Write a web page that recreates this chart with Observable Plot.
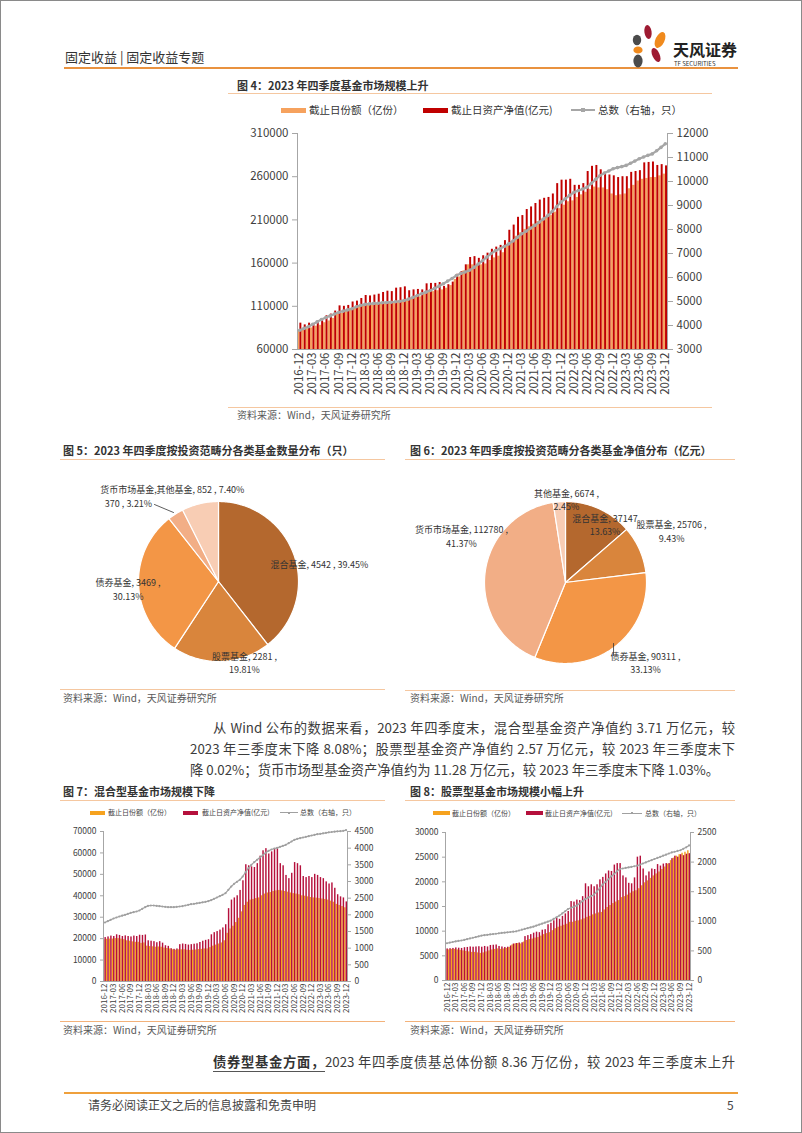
<!DOCTYPE html>
<html><head><meta charset="utf-8">
<script src="https://cdn.jsdelivr.net/npm/d3@7"></script>
<script src="https://cdn.jsdelivr.net/npm/@observablehq/plot@0.6"></script>
<style>
html,body{margin:0;padding:0;background:#fff;}
#page{position:relative;width:802px;height:1133px;overflow:hidden;font-family:"Noto Sans CJK SC","Noto Sans",sans-serif;color:#333;background:#fff;}
#border{position:absolute;left:0;top:0;width:802px;height:1133px;box-sizing:border-box;border:1px solid #8a8a8a;pointer-events:none;}
</style></head><body><div id="page"><div id="border"></div></div>
<script>
const FONT = '"Noto Sans CJK SC","Noto Sans",sans-serif';

// ---------- category axis ----------
const months = d3.timeMonth.range(new Date(2016, 11, 1), new Date(2024, 0, 1)).map(d3.timeFormat("%Y-%m"));
const tickMonths = months.filter((d, i) => i % 3 === 0);

// ---------- Figure 4: all funds ----------
const allShares = [81000,
  82000, 84000, 85000, 87000, 88000, 91000, 93000, 96000, 101000, 102000, 104000, 107000,
  108000, 110000, 112000, 112000, 112000, 112500, 113000, 114000, 114000, 115000, 116000, 117000,
  118000, 119000, 121000, 121000, 124000, 126000, 127000, 128000, 129000, 131000, 134000, 141000,
  144000, 151000, 158000, 158000, 157000, 158000, 159000, 163000, 166000, 168000, 172000, 180000,
  185000, 191000, 195000, 199000, 202000, 205000, 208000, 211000, 213000, 215000, 219000, 223000,
  227000, 231000, 232000, 236000, 239000, 242000, 245000, 248000, 247000, 247000, 245000, 240000,
  238000, 239000, 240000, 246000, 250000, 255000, 257000, 258000, 259000, 259000, 261000, 263000];
const allNav = [90500,
  88500, 90500, 89500, 93000, 94500, 99000, 101000, 104500, 110500, 110000, 111000, 115000,
  116000, 119000, 122500, 122000, 123000, 124000, 126000, 127500, 127000, 131000, 131500, 132500,
  128000, 129000, 129500, 129000, 136000, 136500, 136500, 137500, 133000, 135000, 138000, 147000,
  150000, 158000, 166500, 167500, 165500, 168500, 171500, 176000, 178500, 180500, 186000, 198000,
  204000, 213000, 215000, 222000, 225000, 229000, 233000, 235000, 236000, 240000, 252000, 256000,
  256000, 257000, 250000, 250000, 252000, 266000, 272000, 273000, 268000, 265000, 262000, 261000,
  259000, 260000, 260000, 265000, 266000, 267000, 276000, 276500, 277000, 273000, 274000, 272500];
const allCount = [3800,
  3880, 3950, 4050, 4150, 4250, 4330, 4400, 4480, 4550, 4600, 4650, 4700,
  4780, 4840, 4880, 4900, 4920, 4930, 4950, 4960, 4970, 4990, 5010, 5040,
  5100, 5170, 5250, 5320, 5390, 5460, 5550, 5640, 5740, 5850, 5960, 6080,
  6170, 6230, 6300, 6420, 6560, 6700, 6850, 7000, 7120, 7200, 7290, 7400,
  7520, 7670, 7820, 7930, 8050, 8170, 8300, 8440, 8580, 8750, 8950, 9140,
  9280, 9420, 9550, 9620, 9690, 9760, 9920, 10090, 10250, 10350, 10440, 10530,
  10580, 10620, 10670, 10760, 10850, 10950, 11020, 11090, 11150, 11280, 11420, 11570];

// ---------- Figure 7: mixed funds ----------
const mixShares = [19500,
  19700, 19800, 19800, 20000, 20000, 19800, 19500, 19000, 18800, 18500, 18300, 18300,
  17800, 18000, 16500, 16300, 16200, 16000, 16100, 16000, 15600, 15400, 15200, 14800,
  14600, 14800, 14800, 14800, 14600, 14500, 14600, 14700, 14900, 15000, 15200, 15200,
  15800, 16500, 17000, 17500, 18000, 19000, 22500, 24500, 25800, 27500, 29500, 32500,
  35500, 37000, 38000, 38300, 38700, 39000, 40000, 40800, 41300, 41500, 42000, 42300,
  42500, 42300, 42000, 41700, 41300, 41000, 40800, 40500, 40000, 39800, 39500, 39200,
  39000, 38900, 38700, 38500, 38300, 38000, 37500, 37000, 36000, 35500, 35000, 34400];
const mixNav = [20500,
  20800, 21200, 21000, 21800, 21500, 21000, 21300, 21000, 20800, 21200, 21000, 21600,
  21500, 21700, 19000, 18800, 18600, 18100, 18600, 17900, 16700, 16400, 15300, 15000,
  15200, 17200, 17500, 17300, 17000, 17200, 17400, 17600, 18200, 18800, 19200, 19500,
  21800, 22800, 23300, 24000, 25000, 26500, 34000, 38000, 39000, 40000, 42500, 47000,
  54500, 54000, 53500, 53200, 55000, 58500, 61000, 62000, 59500, 60500, 62000, 62500,
  55000, 54000, 49500, 48000, 50500, 55500, 55000, 54000, 49000, 48500, 49000, 48500,
  50000, 49500, 48500, 48000, 46500, 45500, 46000, 43500, 40500, 39500, 39000, 37147];
const mixCount = [1770,
  1810, 1850, 1890, 1920, 1950, 1975, 2000, 2030, 2060, 2080, 2100, 2130,
  2180, 2230, 2270, 2280, 2280, 2270, 2260, 2250, 2240, 2230, 2230, 2230,
  2240, 2250, 2260, 2280, 2300, 2320, 2330, 2345, 2360, 2375, 2390, 2410,
  2440, 2480, 2520, 2560, 2600, 2650, 2750, 2850, 2930, 2990, 3050, 3150,
  3280, 3400, 3500, 3580, 3650, 3720, 3790, 3860, 3920, 3960, 3990, 4010,
  4040, 4070, 4100, 4150, 4200, 4250, 4280, 4300, 4320, 4340, 4360, 4380,
  4400, 4420, 4430, 4445, 4460, 4475, 4485, 4495, 4505, 4510, 4520, 4542];

// ---------- Figure 8: stock funds ----------
const stkShares = [6200,
  6200, 6300, 6300, 6200, 6100, 6000, 5900, 5800, 5700, 5700, 5600, 5500,
  5600, 5800, 6000, 6200, 6300, 6400, 6300, 6400, 6500, 6700, 7200, 7400,
  7500, 7400, 7800, 8100, 8300, 8400, 8600, 8700, 9000, 9300, 9500, 9700,
  10100, 10500, 10800, 11000, 11200, 11400, 11800, 11800, 12000, 12100, 12300, 12500,
  12800, 13000, 13300, 13500, 13700, 13800, 14300, 14800, 15200, 15600, 15900, 16200,
  16800, 17000, 17300, 17700, 18000, 18200, 18600, 19200, 19800, 20200, 20700, 21200,
  21600, 22000, 22500, 23000, 23600, 24300, 24800, 25200, 25500, 25800, 26000, 26300];
const stkNav = [6400,
  6450, 6500, 6600, 6550, 6500, 6650, 6700, 6800, 6750, 6800, 6850, 6750,
  6900, 6800, 7100, 7150, 7200, 6900, 6800, 6700, 6750, 7000, 7400, 7500,
  7600, 7650, 8900, 9100, 9300, 9600, 9800, 9700, 10200, 10300, 11300, 11600,
  12100, 12600, 12400, 13000, 13500, 14000, 16000, 15900, 16300, 16200, 17000, 19600,
  19000, 19400, 19000, 19400, 20400, 20900, 21600, 22200, 22100, 23400, 23700, 23700,
  21200, 20800, 19700, 19600, 20800, 25000, 25200, 22600, 21200, 22000, 22600, 22500,
  23500, 23200, 23600, 23700, 23700, 24700, 25200, 25000, 25500, 25300, 25600, 25706];
const stkCount = [629,
  640, 650, 660, 668, 676, 686, 698, 710, 722, 734, 746, 759,
  765, 772, 778, 784, 790, 797, 803, 808, 813, 819, 825, 831,
  845, 858, 871, 884, 897, 910, 927, 944, 960, 977, 994, 1011,
  1040, 1068, 1096, 1133, 1170, 1208, 1227, 1245, 1264, 1300, 1340, 1377,
  1400, 1425, 1450, 1500, 1560, 1620, 1665, 1710, 1760, 1800, 1845, 1883,
  1892, 1901, 1910, 1920, 1930, 1939, 1958, 1976, 1995, 2014, 2033, 2052,
  2070, 2089, 2108, 2126, 2145, 2163, 2175, 2188, 2200, 2225, 2250, 2281];

// ---------- Figures 5 & 6: pies ----------
const pieNames = ["混合基金", "股票基金", "债券基金", "货币市场基金", "其他基金"];
const pieCount = [4542, 2281, 3469, 370, 852];
const pieNav = [37147, 25706, 90311, 112780, 6674];
const pieColors = ["#B4682E", "#D9853C", "#F39646", "#F2AE86", "#F8CDB4"];

// ---------- helpers ----------
const page = document.getElementById("page");
function hline(x1, x2, y, color, w = 1) {
  const d = document.createElement("div");
  Object.assign(d.style, {position: "absolute", left: x1 + "px", top: (y - w / 2) + "px", width: (x2 - x1) + "px", height: w + "px", background: color});
  page.appendChild(d);
}
function box(x, y, w, h, color) {
  const d = document.createElement("div");
  Object.assign(d.style, {position: "absolute", left: x + "px", top: y + "px", width: w + "px", height: h + "px", background: color});
  page.appendChild(d);
}
function txt(x, y, html, fs, o = {}) {
  const d = document.createElement("div");
  const lh = Math.round(fs * (o.lh || 1.5));
  Object.assign(d.style, {position: "absolute", left: x + "px", top: (y - lh / 2) + "px", fontSize: fs + "px", lineHeight: lh + "px",
    color: o.color || "#333", fontWeight: o.weight || "normal", whiteSpace: "nowrap"});
  if (o.width) { d.style.width = o.width + "px"; d.style.whiteSpace = "normal"; d.style.textAlign = "justify"; d.style.textAlignLast = "justify"; }
  d.innerHTML = html;
  page.appendChild(d);
  return d;
}
function place(svg, left, top) {
  svg.style.position = "absolute"; svg.style.left = left + "px"; svg.style.top = top + "px";
  page.appendChild(svg);
}

function dualChart(o) {
  const rows = months.map((m, i) => ({m, s: o.shares[i], n: o.nav[i], c: o.count[i]}));
  const step = (o.width - o.mL - o.mR) / months.length;
  const wS = step * o.split;
  const base = {width: o.width, height: o.height, marginLeft: o.mL, marginRight: o.mR, marginTop: o.mT, marginBottom: o.mB,
    style: {fontFamily: FONT, fontSize: o.fs + "px", color: "#404040", background: "transparent", overflow: "visible"}};
  const xs = {type: "band", domain: months, padding: 0, round: false, label: null};
  const p1 = Plot.plot({...base,
    x: xs,
    y: {domain: o.yDom, label: null},
    marks: [
      Plot.barY(rows, {x: "m", y1: o.yDom[0], y2: "s", fill: o.cS, insetLeft: 0, insetRight: step - wS}),
      Plot.barY(rows, {x: "m", y1: o.yDom[0], y2: "n", fill: o.cN, insetLeft: wS, insetRight: 0}),
      Plot.ruleY([o.yDom[0]], {stroke: o.axis}),
      Plot.frame({anchor: "left", stroke: o.axis}),
      Plot.axisY({ticks: o.yTicks, tickFormat: d3.format("d"), tickSize: o.ts, tickPadding: o.tp, stroke: o.axis, fontSize: o.fs, label: null}),
      Plot.axisX({ticks: tickMonths, tickRotate: -90, tickSize: 0, tickPadding: o.xtp, fontSize: o.xfs, label: null})
    ]});
  const p2 = Plot.plot({...base,
    x: {...xs, axis: null},
    y: {domain: o.y2Dom, label: null},
    marks: [
      Plot.line(rows, {x: "m", y: "c", stroke: o.cL, strokeWidth: o.lw}),
      Plot.dot(rows, {x: "m", y: "c", r: o.dr, fill: o.cL}),
      Plot.frame({anchor: "right", stroke: o.axis}),
      Plot.axisY({anchor: "right", ticks: o.y2Ticks, tickFormat: d3.format("d"), tickSize: o.ts, tickPadding: o.tp, stroke: o.axis, fontSize: o.fs, label: null})
    ]});
  place(p1, o.left, o.top);
  place(p2, o.left, o.top);
}

function pieChart(o) {
  const total = d3.sum(o.values);
  const arcs = d3.pie().sort(null).value(d => d)(o.values);
  const sliceMarks = arcs.map((a, i) => {
    const pts = [{x: 0, y: 0}];
    const n = Math.max(2, Math.ceil((a.endAngle - a.startAngle) / (Math.PI / 180)));
    for (let k = 0; k <= n; k++) {
      const t = a.startAngle + (a.endAngle - a.startAngle) * k / n;
      pts.push({x: Math.sin(t), y: -Math.cos(t)});
    }
    pts.push({x: 0, y: 0});
    return Plot.line(pts, {x: "x", y: "y", fill: o.colors[i], stroke: "#fff", strokeWidth: 1.2});
  });
  const labels = o.layout.map((L, i) => ({x: L.x, y: L.y, anchor: L.anchor || "middle",
    text: L.fmt(o.names[i], o.values[i], (o.values[i] / total * 100).toFixed(2) + "%")}));
  const R = o.R;
  const p = Plot.plot({width: o.width, height: o.height, margin: 0,
    style: {fontFamily: FONT, background: "transparent", overflow: "visible"},
    x: {domain: [-o.cx / R, (o.width - o.cx) / R], range: [0, o.width], axis: null},
    y: {domain: [-o.cy / R, (o.height - o.cy) / R], range: [0, o.height], axis: null},
    marks: [
      ...sliceMarks,
      ...o.leaders.map(l => Plot.line(l, {x: "x", y: "y", stroke: "#333", strokeWidth: 0.8})),
      Plot.text(labels.filter(d => d.anchor === "middle"), {x: "x", y: "y", text: "text", textAnchor: "middle", lineHeight: 1.5, fontSize: 9, fill: "#333"}),
      Plot.text(labels.filter(d => d.anchor === "start"), {x: "x", y: "y", text: "text", textAnchor: "start", lineHeight: 1.5, fontSize: 9, fill: "#333"})
    ]});
  place(p, o.left, o.top);
}

// ---------- header ----------
txt(65, 57, "固定收益 | 固定收益专题", 13, {color: "#333"});
hline(64, 738, 68, "#E9923F", 2);
const logo = document.createElementNS("http://www.w3.org/2000/svg", "svg");
logo.setAttribute("width", "60"); logo.setAttribute("height", "50");
logo.innerHTML = `
<ellipse cx="19" cy="12" rx="3.6" ry="7" fill="#9E1B32" transform="rotate(-8 19 12)"/>
<ellipse cx="8" cy="20" rx="4.2" ry="5.2" fill="#4B4B4B"/>
<ellipse cx="31" cy="20" rx="4.5" ry="8.5" fill="#F08A1D" transform="rotate(25 31 20)"/>
<ellipse cx="9" cy="30" rx="4.6" ry="3.6" fill="#F08A1D"/>
<ellipse cx="27" cy="35" rx="3.6" ry="7.5" fill="#9E1B32" transform="rotate(-25 27 35)"/>
<ellipse cx="9" cy="41" rx="4.6" ry="6.5" fill="#4B4B4B"/>`;
place(logo, 629, 20);
txt(673, 49, "天风证券", 16, {color: "#222", weight: "bold", lh: 1.1});
txt(674, 63.5, "TF SECURITIES", 6, {color: "#333", lh: 1.1});

// ---------- Figure 4 ----------
txt(237, 85, "图 4：2023 年四季度基金市场规模上升", 11, {weight: "bold", color: "#333"});
hline(228, 712, 93, "#F5C7A0", 1);
box(281, 108, 25, 5, "#F6A25E");
txt(309, 110, "截止日份额（亿份）", 10.5, {color: "#333"});
box(423, 108, 25, 5, "#C00000");
txt(451, 110, "截止日资产净值(亿元)", 10.5, {color: "#333"});
hline(571, 595, 110, "#A6A6A6", 2);
box(581, 108, 4, 4, "#A6A6A6");
txt(598, 110, "总数（右轴，只）", 10.5, {color: "#333"});
dualChart({left: 230, top: 120, width: 490, height: 285, mL: 67, mR: 53, mT: 13, mB: 56,
  shares: allShares, nav: allNav, count: allCount,
  yDom: [60000, 310000], yTicks: d3.range(60000, 310001, 50000),
  y2Dom: [3000, 12000], y2Ticks: d3.range(3000, 12001, 1000),
  cS: "#F6A25E", cN: "#C00000", cL: "#A6A6A6", lw: 2.2, dr: 1.8, split: 0.55,
  axis: "#A6A6A6", fs: 11.5, xfs: 11.5, ts: 5, tp: 4, xtp: 3});
hline(228, 712, 407, "#F5C7A0", 1);
txt(237, 414, "资料来源：Wind，天风证券研究所", 10, {color: "#595959"});

// ---------- Figure 5 ----------
txt(63, 450, "图 5：2023 年四季度按投资范畴分各类基金数量分布（只）", 11, {weight: "bold"});
hline(60, 385, 459, "#F5C7A0", 1);
pieChart({left: 60, top: 465, width: 325, height: 220, cx: 158, cy: 116, R: 80,
  names: pieNames, values: pieCount, colors: pieColors,
  layout: [
    {x: 0.65, y: -0.225, anchor: "start", fmt: (n, v, p) => `${n}, ${v} , ${p}`},
    {x: 0.325, y: 1.006, fmt: (n, v, p) => `${n}, ${v} ,\n${p}`},
    {x: -1.13, y: 0.0875, fmt: (n, v, p) => `${n}, ${v} ,\n${p}`},
    {x: -1.125, y: -1.075, fmt: (n, v, p) => `${n},\n${v} , ${p}`},
    {x: -0.225, y: -1.1625, fmt: (n, v, p) => `${n}, ${v} , ${p}`}
  ],
  leaders: [[{x: -0.8, y: -0.9625}, {x: -0.5625, y: -0.8625}]]});
hline(60, 385, 689, "#F5C7A0", 1);
txt(63, 697, "资料来源：Wind，天风证券研究所", 10, {color: "#595959"});

// ---------- Figure 6 ----------
txt(410, 450, "图 6：2023 年四季度按投资范畴分各类基金净值分布（亿元）", 11, {weight: "bold"});
hline(405, 735, 459, "#F5C7A0", 1);
pieChart({left: 405, top: 465, width: 330, height: 220, cx: 160, cy: 117, R: 81,
  names: pieNames, values: pieNav, colors: pieColors,
  layout: [
    {x: 0.488, y: -0.722, fmt: (n, v, p) => `${n}, ${v}\n${p}`},
    {x: 1.309, y: -0.642, fmt: (n, v, p) => `${n}, ${v} ,\n${p}`},
    {x: 0.988, y: 0.981, fmt: (n, v, p) => `${n}, ${v} ,\n${p}`},
    {x: -1.284, y: -0.58, fmt: (n, v, p) => `${n}, ${v} ,\n${p}`},
    {x: 0.012, y: -1.03, fmt: (n, v, p) => `${n}, ${v} ,\n${p}`}
  ],
  leaders: [[{x: 0.593, y: 0.753}, {x: 0.593, y: 0.901}]]});
hline(405, 735, 690, "#F5C7A0", 1);
txt(410, 697, "资料来源：Wind，天风证券研究所", 10, {color: "#595959"});

// ---------- paragraph ----------
const PC = "#3c3c3c";
txt(213, 728, "从 Wind 公布的数据来看，2023 年四季度末，混合型基金资产净值约 3.71 万亿元，较", 13.3, {color: PC, width: 522});
txt(190, 749, "2023 年三季度末下降 8.08%；股票型基金资产净值约 2.57 万亿元，较 2023 年三季度末下", 13.3, {color: PC, width: 545});
txt(190, 770, "降 0.02%；货币市场型基金资产净值约为 11.28 万亿元，较 2023 年三季度末下降 1.03%。", 13.3, {color: PC});

// ---------- Figure 7 ----------
txt(63, 791, "图 7：混合型基金市场规模下降", 11, {weight: "bold"});
hline(60, 385, 800, "#F5C7A0", 1);
box(90, 810.5, 15, 4, "#F6A21E");
txt(108, 812.5, "截止日份额（亿份）", 7, {color: "#444"});
box(183, 810.5, 15, 4, "#B5103C");
txt(202, 812.5, "截止日资产净值(亿元)", 7, {color: "#444"});
hline(280, 298, 812.5, "#A0A0A0", 1);
box(288, 811.5, 2, 2, "#A0A0A0");
txt(300, 812.5, "总数（右轴，只）", 7, {color: "#444"});
dualChart({left: 60, top: 822, width: 325, height: 198, mL: 43, mR: 38, mT: 9, mB: 39,
  shares: mixShares, nav: mixNav, count: mixCount,
  yDom: [0, 70000], yTicks: d3.range(0, 70001, 10000),
  y2Dom: [0, 4500], y2Ticks: d3.range(0, 4501, 500),
  cS: "#F6A21E", cN: "#B5103C", cL: "#A0A0A0", lw: 1.2, dr: 1.1, split: 0.5,
  axis: "#A6A6A6", fs: 8.5, xfs: 8, ts: 3, tp: 4, xtp: 2});
hline(60, 385, 1021, "#F3B27A", 1);
txt(63, 1029, "资料来源：Wind，天风证券研究所", 10, {color: "#595959"});

// ---------- Figure 8 ----------
txt(410, 791, "图 8：股票型基金市场规模小幅上升", 11, {weight: "bold"});
hline(405, 735, 800, "#F5C7A0", 1);
box(433, 811, 17, 4, "#F6A21E");
txt(452, 813, "截止日份额（亿份）", 7, {color: "#444"});
box(526, 811, 17, 4, "#B5103C");
txt(545, 813, "截止日资产净值(亿元)", 7, {color: "#444"});
hline(622, 642, 813, "#A0A0A0", 1);
box(631, 812, 2, 2, "#A0A0A0");
txt(645, 813, "总数（右轴，只）", 7, {color: "#444"});
dualChart({left: 405, top: 822, width: 320, height: 198, mL: 40, mR: 35, mT: 10, mB: 40,
  shares: stkShares, nav: stkNav, count: stkCount,
  yDom: [0, 30000], yTicks: d3.range(0, 30001, 5000),
  y2Dom: [0, 2500], y2Ticks: d3.range(0, 2501, 500),
  cS: "#F6A21E", cN: "#B5103C", cL: "#A0A0A0", lw: 1.2, dr: 1.1, split: 0.5,
  axis: "#A6A6A6", fs: 8.5, xfs: 8, ts: 3, tp: 4, xtp: 2});
hline(405, 735, 1021, "#F3B27A", 1);
txt(410, 1029, "资料来源：Wind，天风证券研究所", 10, {color: "#595959"});

// ---------- closing paragraph & footer ----------
txt(213, 1062, '<span style="font-weight:bold;color:#333;border-bottom:1px solid #555;">债券型基金方面，</span>2023 年四季度债基总体份额 8.36 万亿份，较 2023 年三季度末上升', 13.3, {color: PC, width: 522});
hline(64, 738, 1093, "#EFA03C", 2);
txt(88, 1105, "请务必阅读正文之后的信息披露和免责申明", 12, {color: "#444"});
txt(727, 1105, "5", 12, {color: "#444"});
</script></body></html>
